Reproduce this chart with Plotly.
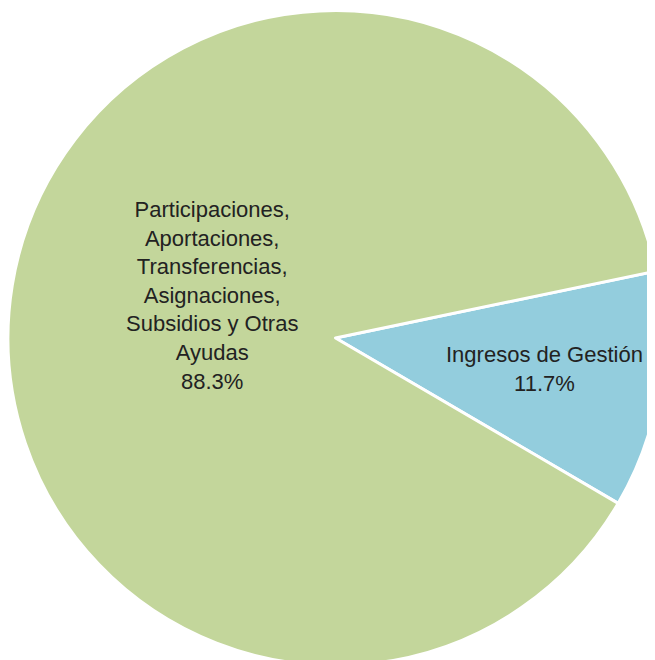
import plotly.graph_objects as go

labels = ["Ingresos de Gestión",
          "Participaciones, Aportaciones, Transferencias, Asignaciones, Subsidios y Otras Ayudas"]
label_lines = ["Ingresos de Gestión",
               "Participaciones,<br>Aportaciones,<br>Transferencias,<br>Asignaciones,<br>Subsidios y Otras<br>Ayudas"]
values = [11.7, 88.3]
colors = ["#93CDDD", "#C3D69B"]

W, H = 655, 660
fig = go.Figure(go.Pie(
    labels=labels, values=values, sort=False, direction="clockwise",
    rotation=78.2,
    marker=dict(colors=colors, line=dict(color="white", width=3)),
    textinfo="none", hoverinfo="label+percent", showlegend=False,
    domain=dict(x=[0, 1], y=[0, 1]),
))

total = sum(values)
label_pos = [(536, 361), (204, 288)]  # pixel centres of the label blocks
for lab, v, (px, py) in zip(label_lines, values, label_pos):
    fig.add_annotation(
        text=f"{lab}<br>{v / total * 100:.1f}%",
        x=px / W, y=1 - py / H, xref="paper", yref="paper",
        showarrow=False, align="center", xanchor="center", yanchor="middle",
        font=dict(family="Liberation Sans, Arial, sans-serif", size=22, color="#222222"),
    )

fig.update_layout(
    width=W, height=H,
    margin=dict(l=0, r=0, t=0, b=0),
    paper_bgcolor="white", plot_bgcolor="white",
)
fig.write_html("out.html")
